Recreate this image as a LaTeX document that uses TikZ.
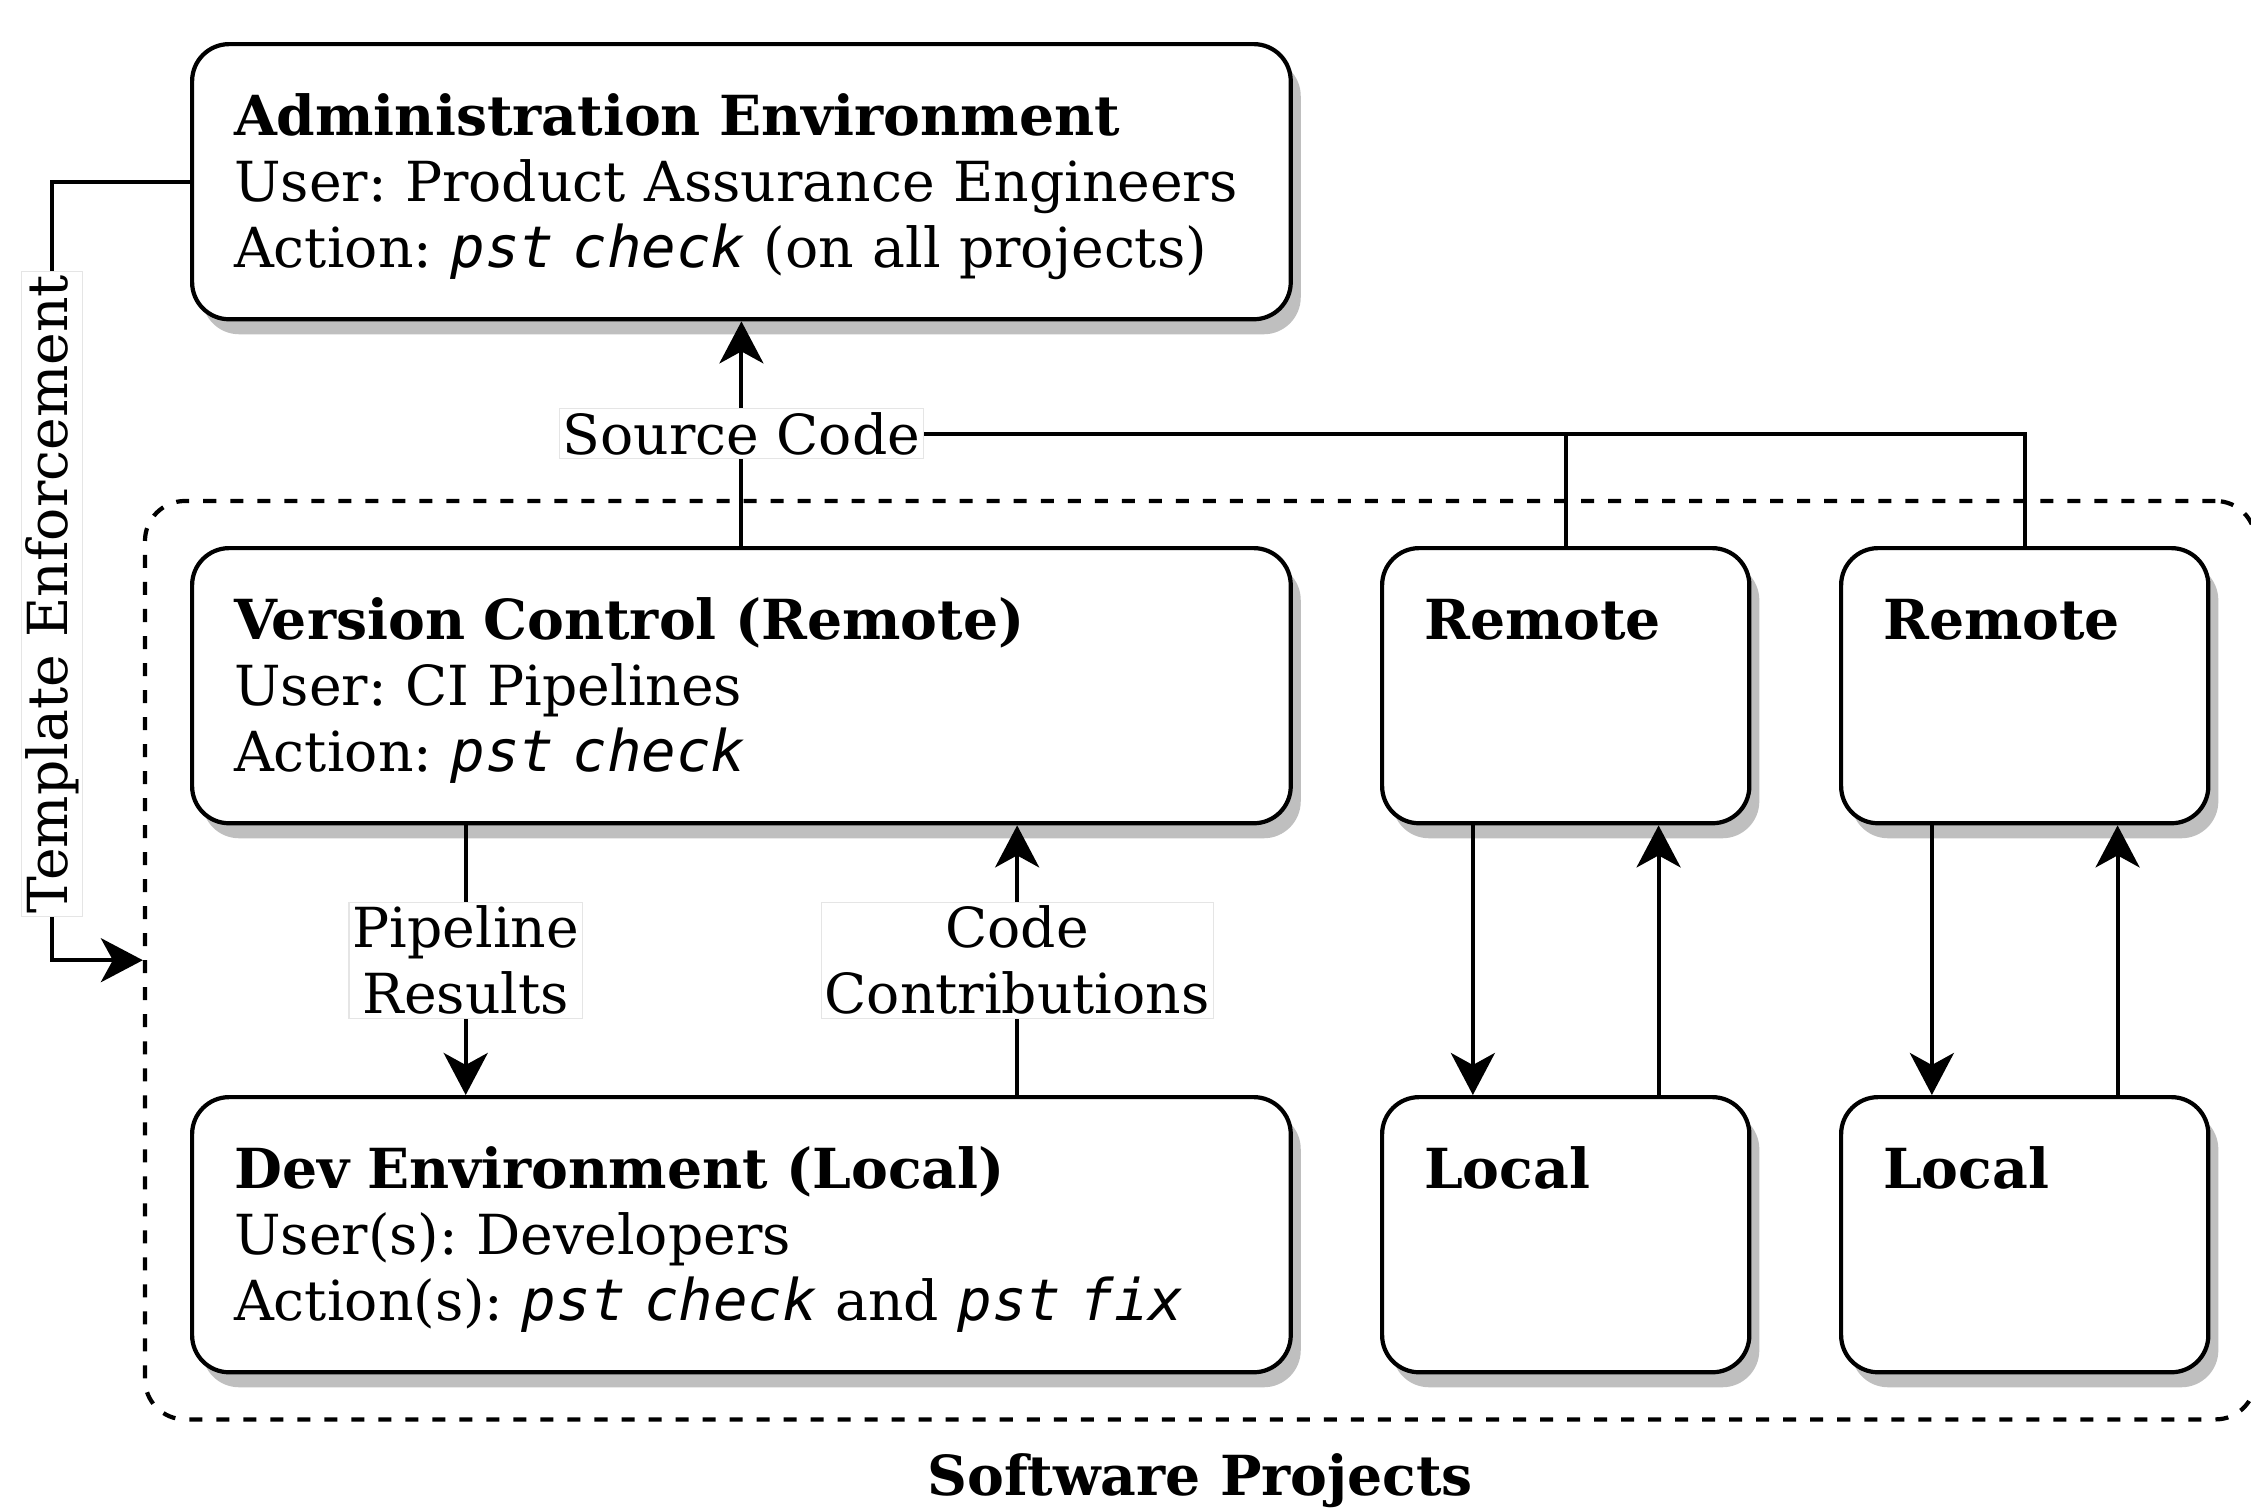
\documentclass[tikz,border=0pt]{standalone}
\usepackage{fontspec}
\setmainfont{DejaVu Serif}
\setmonofont[Scale=1.04]{DejaVu Sans Mono}
\usetikzlibrary{positioning}
\usetikzlibrary{calc}
\usetikzlibrary{fit}
\usetikzlibrary{shadows}
\usetikzlibrary{arrows.meta}

\newcommand{\cmd}[1]{\textit{\texttt{#1}}}
\newcommand{\boxfont}{\fontsize{15.7}{18.8}\selectfont\frenchspacing}

\tikzset{
  envbox/.style={draw, line width=1.2pt, rounded corners=0.37cm, fill=white,
    drop shadow={shadow xshift=0.1cm, shadow yshift=-0.15cm, fill=black!25, opacity=1},
    anchor=north west, align=left, inner xsep=0.42cm, inner ysep=0pt,
    text height=0.91cm, text depth=1.84cm, text width=10.14cm,
    font=\boxfont},
  smallbox/.style={envbox, text width=2.83cm},
  conn/.style={line width=1.15pt},
  arr/.style={conn, -{Stealth[length=0.42cm, width=0.44cm, inset=0.12cm]}},
  lbl/.style={fill=white, draw=black!10, line width=0.3pt, inner sep=1pt,
    align=center, font=\boxfont},
  projbox/.style={draw, line width=1.2pt, dash pattern=on 0.13cm off 0.14cm,
    rounded corners=0.4cm, inner sep=0.45cm},
}

\begin{document}
\begin{tikzpicture}[x=0.01cm, y=-0.01cm]
\useasboundingbox (0,0) rectangle (2251,1509);

% main boxes
\node[envbox] (admin) at (190,42) {\textbf{Administration Environment}\\
  User: Product Assurance Engineers\\
  Action: \cmd{pst check} (on all projects)};
\node[envbox] (vc) at (190,546) {\textbf{Version Control (Remote)}\\
  User: CI Pipelines\\
  Action: \cmd{pst check}};
\node[envbox] (dev) at (190,1095) {\textbf{Dev Environment (Local)}\\
  User(s): Developers\\
  Action(s): \cmd{pst check} and \cmd{pst fix}};

% other projects
\node[smallbox] (rem1) at (1380,546) {\textbf{Remote}};
\node[smallbox] (loc1) at (1380,1095) {\textbf{Local}};
\node[smallbox] (rem2) at (1839,546) {\textbf{Remote}};
\node[smallbox] (loc2) at (1839,1095) {\textbf{Local}};

\node[projbox, fit=(vc)(loc2)] (projects) {};
\node[font=\boxfont\bfseries, below=0.2cm of projects] (projlbl) {Software Projects};

% connectors
\draw[arr] (vc.north) -- node[lbl] (srclbl) {Source Code} (admin.south);
\draw[conn] (srclbl.east) -| (rem2.north);
\draw[conn] (srclbl.east -| rem1.north) -- (rem1.north);

\draw[arr] ($(vc.south west)!0.25!(vc.south east)$) -- node[lbl] {Pipeline\\Results}
  ($(dev.north west)!0.25!(dev.north east)$);
\draw[arr] ($(dev.north west)!0.75!(dev.north east)$) -- node[lbl] {Code\\Contributions}
  ($(vc.south west)!0.75!(vc.south east)$);

\foreach \i in {1,2} {
  \draw[arr] ($(rem\i.south west)!0.25!(rem\i.south east)$) -- ($(loc\i.north west)!0.25!(loc\i.north east)$);
  \draw[arr] ($(loc\i.north west)!0.75!(loc\i.north east)$) -- ($(rem\i.south west)!0.75!(rem\i.south east)$);
}

\draw[arr] (admin.west) -- ++(-138,0) |- node[pos=0.265, lbl, rotate=90] {Template Enforcement} (projects.west);
\end{tikzpicture}
\end{document}
